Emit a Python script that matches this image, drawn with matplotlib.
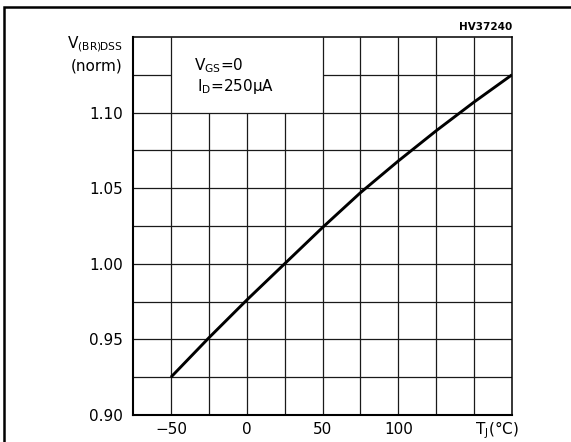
import matplotlib
matplotlib.use("Agg")
import matplotlib.pyplot as plt
from matplotlib.patches import Rectangle
import numpy as np

# Normalised breakdown voltage vs junction temperature
temp_c = [-50, -25, 0, 25, 50, 75, 100, 125, 150, 175]
v_norm = [0.925, 0.951, 0.976, 1.000, 1.024, 1.047, 1.068, 1.088, 1.107, 1.125]

x_ticks = [-50, 0, 50, 100]
x_tick_labels = ["\u221250", "0", "50", "100"]
y_ticks = [0.90, 0.95, 1.00, 1.05, 1.10]
y_tick_labels = ["0.90", "0.95", "1.00", "1.05", "1.10"]

x_min, x_max, x_step = -75, 175, 25
y_min, y_max, y_step = 0.90, 1.15, 0.025

# condition box (in data units) that hides the grid behind the text
box_x = (-50, 50)
box_y = (1.10, 1.15)

plt.rcParams["font.family"] = ["DejaVu Sans"]
plt.rcParams["mathtext.fontset"] = "dejavusans"

W, H = 571, 442
fig = plt.figure(figsize=(W / 100, H / 100), dpi=100)
fig.patch.set_facecolor("white")

# outer frame (only top and left edges fall inside the image)
fig.patches.append(Rectangle((4 / W, -0.1), 1.2, (H - 7) / H + 0.1,
                             transform=fig.transFigure, fill=False,
                             edgecolor="black", linewidth=1.8))

ax = fig.add_axes([133 / W, (H - 415) / H, (512 - 133) / W, (415 - 37) / H])
ax.set_xlim(x_min, x_max)
ax.set_ylim(y_min, y_max)

grid_kw = dict(colors="#1a1a1a", linewidth=0.9, zorder=1)
# vertical grid lines
for x in np.arange(x_min + x_step, x_max, x_step):
    top = box_y[0] if box_x[0] < x < box_x[1] else y_max
    ax.vlines(x, y_min, top, **grid_kw)
# horizontal grid lines
for y in np.arange(y_min + y_step, y_max - 1e-9, y_step):
    if box_y[0] < y < box_y[1]:
        ax.hlines(y, x_min, box_x[0], **grid_kw)
        ax.hlines(y, box_x[1], x_max, **grid_kw)
    else:
        ax.hlines(y, x_min, x_max, **grid_kw)

ax.plot(temp_c, v_norm, color="black", linewidth=2.1, zorder=3,
        solid_capstyle="butt")

for side in ["left", "bottom"]:
    ax.spines[side].set_linewidth(1.5)
for side in ["top", "right"]:
    ax.spines[side].set_linewidth(1.1)

ax.set_xticks(x_ticks)
ax.set_xticklabels(x_tick_labels)
ax.set_yticks(y_ticks)
ax.set_yticklabels(y_tick_labels)
ax.tick_params(length=0, labelsize=11, colors="black")
ax.tick_params(axis="x", pad=5)
ax.tick_params(axis="y", pad=7)

# axis titles
ax.text(-0.027, 0.923, "(norm)", transform=ax.transAxes, ha="right",
        va="center", fontsize=11)
ax.text(-0.027, 0.982, r"V$_{\mathrm{(BR)DSS}}$", transform=ax.transAxes,
        ha="right", va="center", fontsize=11)
ax.text(0.96, -0.011, r"T$_{\mathrm{J}}$(°C)", transform=ax.transAxes,
        ha="center", va="top", fontsize=11)

# test conditions
ax.text(0.16, 0.925, r"V$_{\mathrm{GS}}$=0", transform=ax.transAxes,
        ha="left", va="center", fontsize=11)
ax.text(0.168, 0.87, r"I$_{\mathrm{D}}$=250μA", transform=ax.transAxes,
        ha="left", va="center", fontsize=11)

# figure code
ax.text(1.0, 1.013, "HV37240", transform=ax.transAxes, ha="right",
        va="bottom", fontsize=7.5, fontweight="bold")

fig.savefig("out.png", dpi=100)
